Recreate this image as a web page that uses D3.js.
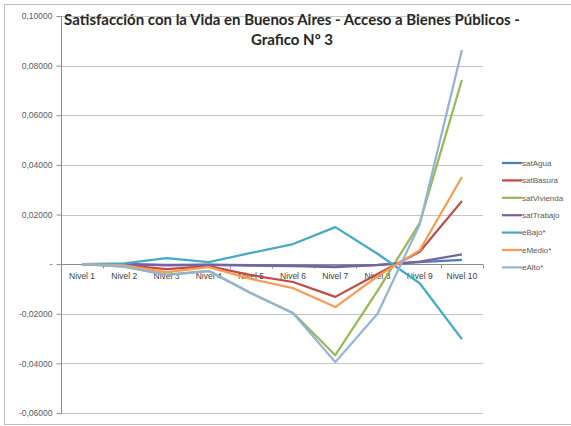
<!DOCTYPE html>
<html>
<head>
<meta charset="utf-8">
<script src="https://cdn.jsdelivr.net/npm/d3@7"></script>
<style>
  html, body { margin: 0; padding: 0; background: #fff; }
  svg { display: block; }
</style>
</head>
<body>
<svg id="chart" width="571" height="426"></svg>
<script>
// Categories (income levels)
const categories = ["Nivel 1", "Nivel 2", "Nivel 3", "Nivel 4", "Nivel 5",
                    "Nivel 6", "Nivel 7", "Nivel 8", "Nivel 9", "Nivel 10"];

// Series names in legend order
const seriesNames = ["satAgua", "satBasura", "satVivienda", "satTrabajo", "eBajo*", "eMedio*", "eAlto*"];

// Series values per level
const satAgua     = [0, 0, -0.0003, -0.0002, -0.0004, -0.0006, -0.0009, -0.0003, 0.0008, 0.0017];
const satBasura   = [0, -0.0004, -0.0020, -0.0008, -0.0044, -0.0072, -0.0132, -0.0040, 0.0050, 0.0254];
const satVivienda = [0, -0.0010, -0.0042, -0.0027, -0.0116, -0.0197, -0.0367, -0.0108, 0.0165, 0.0742];
const satTrabajo  = [0, 0, -0.0005, -0.0003, -0.0006, -0.0008, -0.0012, -0.0004, 0.0010, 0.0039];
const eBajo       = [0, 0.0003, 0.0024, 0.0008, 0.0045, 0.0081, 0.0149, 0.0042, -0.0077, -0.0302];
const eMedio      = [0, -0.0005, -0.0032, -0.0012, -0.0060, -0.0097, -0.0173, -0.0049, 0.0056, 0.0351];
const eAlto       = [0, -0.0010, -0.0044, -0.0028, -0.0117, -0.0198, -0.0395, -0.0200, 0.0160, 0.0863];

const seriesColors = ["#4A7EBB", "#BE4B48", "#98B954", "#7D60A0", "#46AAC5", "#F59D56", "#95B3D7"];

// Y axis ticks
const yTicks = [0.10, 0.08, 0.06, 0.04, 0.02, 0, -0.02, -0.04, -0.06];

const titleLines = ["Satisfacción con la Vida en Buenos Aires - Acceso a Bienes Públicos -",
                    "Grafico Nº 3"];

const seriesValues = [satAgua, satBasura, satVivienda, satTrabajo, eBajo, eMedio, eAlto];
const series = seriesNames.map((name, i) => ({ name, color: seriesColors[i], values: seriesValues[i] }));

const svg = d3.select("#chart");
const font = "'Liberation Sans', Arial, sans-serif";

// Chart frame
svg.append("rect")
  .attr("x", 4.5).attr("y", 4.5)
  .attr("width", 600).attr("height", 420)
  .attr("fill", "#fff")
  .attr("stroke", "#BDBDBD")
  .attr("stroke-width", 1);

const plot = { left: 61, right: 483, top: 16, bottom: 413 };

const x = d3.scaleBand()
  .domain(categories)
  .range([plot.left, plot.right])
  .paddingInner(0).paddingOuter(0);

const y = d3.scaleLinear()
  .domain([-0.06, 0.10])
  .range([plot.bottom, plot.top]);

// Horizontal gridlines
svg.append("g")
  .selectAll("line")
  .data(yTicks.filter(t => t !== 0))
  .join("line")
  .attr("x1", plot.left).attr("x2", plot.right)
  .attr("y1", d => Math.round(y(d)) + 0.5)
  .attr("y2", d => Math.round(y(d)) + 0.5)
  .attr("stroke", "#C4C4C4")
  .attr("stroke-width", 1.2);

// Y axis
const fmt = v => v === 0 ? "-" : d3.format(".5f")(v).replace(".", ",").replace("−", "-");
const yAxis = d3.axisLeft(y)
  .tickValues(yTicks)
  .tickSize(5)
  .tickPadding(4)
  .tickFormat(fmt);

const yg = svg.append("g")
  .attr("transform", `translate(${plot.left + 0.5},0)`)
  .call(yAxis);
yg.select(".domain").attr("stroke", "#8C8C8C").attr("d", `M0,${plot.top}V${plot.bottom}`);
yg.selectAll(".tick line").attr("stroke", "#8C8C8C");
yg.selectAll(".tick text")
  .attr("font-family", font)
  .attr("font-size", "8.5px")
  .attr("fill", "#595959");

// X axis at zero
const xAxis = d3.axisBottom(x)
  .tickSize(0)
  .tickPadding(8);
const xg = svg.append("g")
  .attr("transform", `translate(0,${Math.round(y(0)) + 0.5})`)
  .call(xAxis);
xg.select(".domain").attr("stroke", "#8C8C8C").attr("d", `M${plot.left},0H${plot.right}`);
xg.selectAll(".tick text")
  .attr("font-family", font)
  .attr("font-size", "8.5px")
  .attr("fill", "#404040");

// Category boundary tick marks
xg.append("g")
  .selectAll("line")
  .data(d3.range(categories.length + 1))
  .join("line")
  .attr("x1", i => Math.round(plot.left + i * x.step()) + 0.5)
  .attr("x2", i => Math.round(plot.left + i * x.step()) + 0.5)
  .attr("y1", 0).attr("y2", 4)
  .attr("stroke", "#8C8C8C");

// Series lines
const line = d3.line()
  .x((d, i) => x(categories[i]) + x.bandwidth() / 2)
  .y(d => y(d));

svg.append("g")
  .selectAll("path")
  .data(series)
  .join("path")
  .attr("d", d => line(d.values))
  .attr("fill", "none")
  .attr("stroke", d => d.color)
  .attr("stroke-width", 2.25)
  .attr("stroke-linejoin", "round")
  .attr("stroke-linecap", "butt");

// Title
svg.append("g")
  .selectAll("text")
  .data(titleLines)
  .join("text")
  .attr("x", 292)
  .attr("y", (d, i) => 25 + i * 20)
  .attr("text-anchor", "middle")
  .attr("font-family", "Lato, 'Open Sans', sans-serif")
  .attr("font-weight", "bold")
  .attr("font-size", "15px")
  .attr("fill", "#262626")
  .text(d => d);

// Legend
const legend = svg.append("g")
  .selectAll("g")
  .data(series)
  .join("g")
  .attr("transform", (d, i) => `translate(502,${163 + i * 17.4})`);
legend.append("line")
  .attr("x1", 0).attr("x2", 20)
  .attr("y1", 0).attr("y2", 0)
  .attr("stroke", d => d.color)
  .attr("stroke-width", 2.25);
legend.append("text")
  .attr("x", 20)
  .attr("y", 0)
  .attr("dy", "0.35em")
  .attr("font-family", font)
  .attr("font-size", "8px")
  .attr("fill", "#595959")
  .text(d => d.name);
</script>
</body>
</html>
